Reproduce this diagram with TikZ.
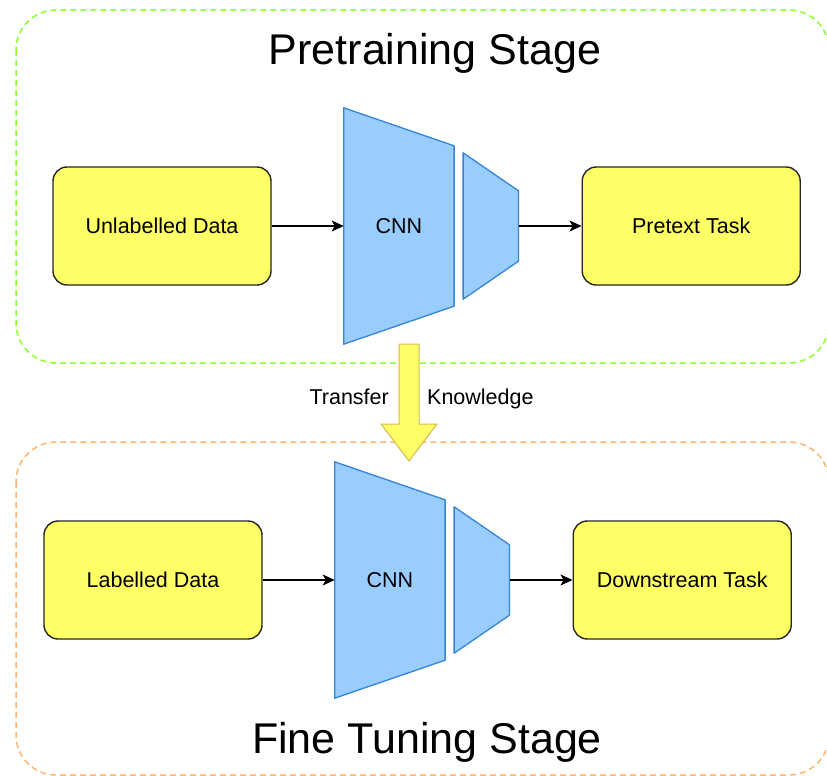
\documentclass[tikz,border=0pt]{standalone}
\usepackage{fontspec}
\setmainfont{Liberation Sans}
\usepackage{xcolor}
\usepackage{tikz}
\usetikzlibrary{arrows.meta,positioning,backgrounds}
\definecolor{tyellow}{HTML}{FFFF66}
\definecolor{tblue}{HTML}{99CCFF}
\definecolor{tbluedk}{HTML}{3385D6}
\definecolor{tgreen}{HTML}{8CFF33}
\definecolor{torange}{HTML}{FFB570}
\definecolor{tgold}{HTML}{D6B656}

\begin{document}
\begin{tikzpicture}[x=1pt, y=-1pt,
  font=\fontsize{21.5}{24}\selectfont,
  box/.style={draw=black!85, fill=tyellow, line width=1.4pt, rounded corners=14pt,
    minimum width=218pt, minimum height=118pt},
  enc/.style={minimum width=110pt, minimum height=236pt, inner sep=0pt},
  hd/.style={minimum width=55pt, minimum height=146pt, inner sep=0pt},
  trap/.style={draw=tbluedk, fill=tblue, line width=1.3pt, line join=round},
  stage/.style={line width=1.5pt, rounded corners=40pt, dash pattern=on 6pt off 4pt},
  arr/.style={-{Stealth[length=12pt, width=11pt, inset=3pt]}, line width=1.3pt},
  bigarr/.style={draw=tgold, fill=tyellow, line width=1pt, line join=miter},
  ttl/.style={font=\fontsize{43}{50}\selectfont, anchor=base, inner sep=0pt},
  lbl/.style={inner sep=0pt},
]
\useasboundingbox (0,0) rectangle (827,776);
\draw[stage, draw=tgreen] (16,10) rectangle (829,363);
\draw[stage, draw=torange] (16,442) rectangle (829,775);
\node[ttl] (t1) at (435,65) {Pretraining Stage};
\node[ttl] (t2) at (427,753) {Fine Tuning Stage};
\node[box] (unl) at (162,226) {Unlabelled Data};
\node[enc, right=72pt of unl] (enc1) {CNN};
\node[hd, right=9pt of enc1] (head1) {};
\node[box, right=63pt of head1] (pre) {Pretext Task};
\node[box] (lab) at (153,580) {Labelled Data};
\node[enc, right=72pt of lab] (enc2) {CNN};
\node[hd, right=9pt of enc2] (head2) {};
\node[box, right=63pt of head2] (down) {Downstream Task};
\begin{scope}[on background layer]
\foreach \n in {enc1,enc2}
  \draw[trap] (\n.north west) -- ([yshift=-38pt]\n.north east) -- ([yshift=38pt]\n.south east) -- (\n.south west) -- cycle;
\foreach \n in {head1,head2}
  \draw[trap] (\n.north west) -- ([yshift=-38pt]\n.north east) -- ([yshift=38pt]\n.south east) -- (\n.south west) -- cycle;
\end{scope}
\draw[arr] (unl) -- (enc1);
\draw[arr] (head1) -- (pre);
\draw[arr] (lab) -- (enc2);
\draw[arr] (head2) -- (down);
\coordinate (tfa) at (409,344);
\coordinate (tfb) at (409,461);
\draw[bigarr] ([xshift=-10pt]tfa) -- ([xshift=10pt]tfa) -- ++(0,80) -- ++(18,0) -- (tfb) -- ++(-28,-37) -- ++(18,0) -- cycle;
\node[lbl, anchor=base east] (tl) at (389,404) {Transfer};
\node[lbl, anchor=base west] (kl) at (427,404) {Knowledge};
\end{tikzpicture}
\end{document}
